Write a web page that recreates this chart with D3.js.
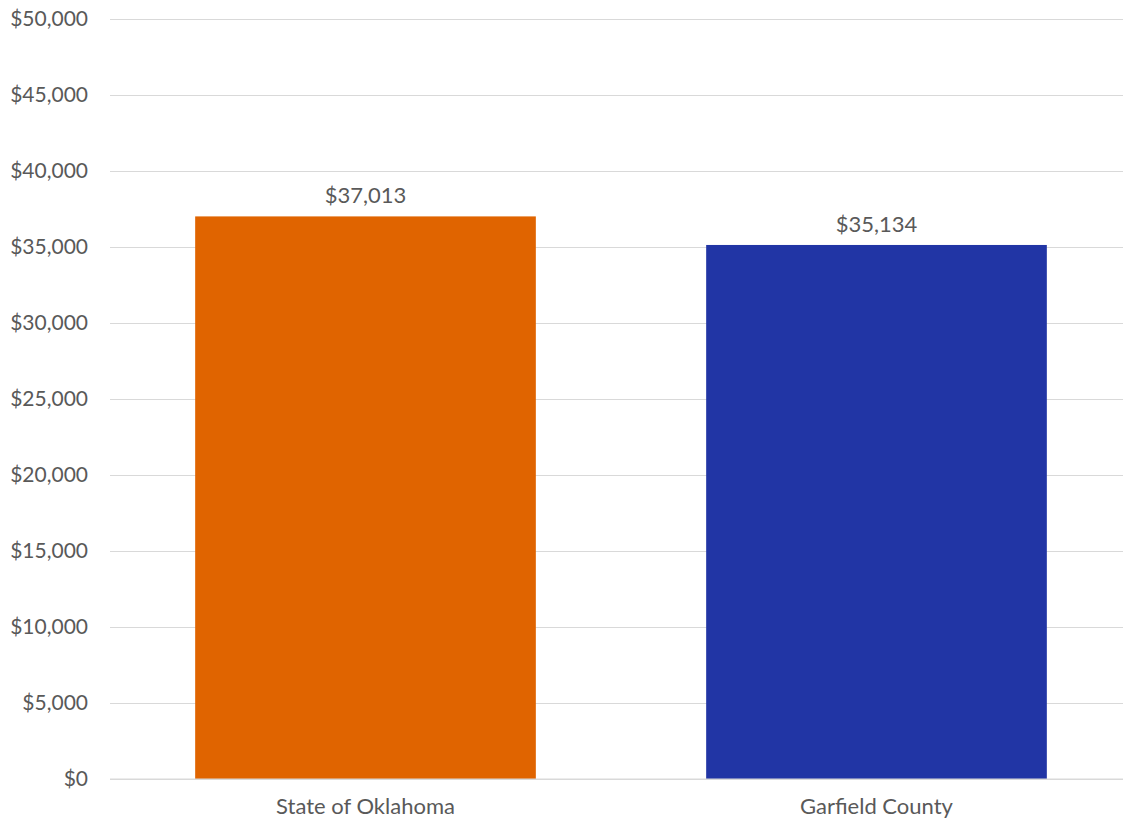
<!DOCTYPE html>
<html>
<head>
<meta charset="utf-8">
<script src="https://cdn.jsdelivr.net/npm/d3@7"></script>
<style>
  html, body { margin: 0; padding: 0; background: #fff; }
  svg { display: block; }
  text { font-family: Lato, "Open Sans", sans-serif; fill: #595959; }
</style>
</head>
<body>
<svg id="chart" width="1123" height="820"></svg>
<script>
// Per-capita income comparison
const categories = ["State of Oklahoma", "Garfield County"];
const values = [37013, 35134];
const barColors = ["#E06400", "#2135A5"];
const yTicks = [0, 5000, 10000, 15000, 20000, 25000, 30000, 35000, 40000, 45000, 50000];

const svg = d3.select("#chart");
const margin = { left: 110, right: -9, top: 19, bottom: 41 };
const W = 1123, H = 820;

const x = d3.scaleBand()
  .domain(categories)
  .range([margin.left, W - margin.right])
  .paddingInner(1 / 3)
  .paddingOuter(1 / 6);

const y = d3.scaleLinear()
  .domain([0, 50000])
  .range([H - margin.bottom, margin.top]);

const money = d3.format("$,");

// Horizontal gridlines and y tick labels
const yAxis = d3.axisLeft(y)
  .tickValues(yTicks)
  .tickFormat(money)
  .tickSize(-(W - margin.left))
  .tickPadding(22);

const gy = svg.append("g")
  .attr("transform", `translate(${margin.left},0)`)
  .call(yAxis);
gy.select(".domain").remove();
gy.selectAll(".tick line").attr("stroke", "#d9d9d9").attr("stroke-width", 1);
gy.selectAll(".tick text")
  .attr("font-size", 21)
  .attr("fill", "#595959")
  .style("font-family", "Lato, 'Open Sans', sans-serif");

// Bars
svg.append("g").selectAll("rect")
  .data(values)
  .join("rect")
  .attr("x", (d, i) => x(categories[i]))
  .attr("y", d => y(d))
  .attr("width", x.bandwidth())
  .attr("height", d => y(0) - y(d))
  .attr("fill", (d, i) => barColors[i]);

// Value labels above bars
svg.append("g").selectAll("text")
  .data(values)
  .join("text")
  .attr("x", (d, i) => x(categories[i]) + x.bandwidth() / 2)
  .attr("y", d => y(d) - 13)
  .attr("text-anchor", "middle")
  .attr("font-size", 22)
  .text(d => money(d));

// Category labels
const gx = svg.append("g")
  .attr("transform", `translate(0,${y(0)})`)
  .call(d3.axisBottom(x).tickSize(0).tickPadding(19));
gx.select(".domain").remove();
gx.selectAll(".tick text")
  .attr("font-size", 22)
  .attr("fill", "#595959")
  .style("font-family", "Lato, 'Open Sans', sans-serif");

// Baseline
svg.append("line")
  .attr("x1", margin.left).attr("x2", W)
  .attr("y1", y(0)).attr("y2", y(0))
  .attr("stroke", "#d9d9d9");
</script>
</body>
</html>
